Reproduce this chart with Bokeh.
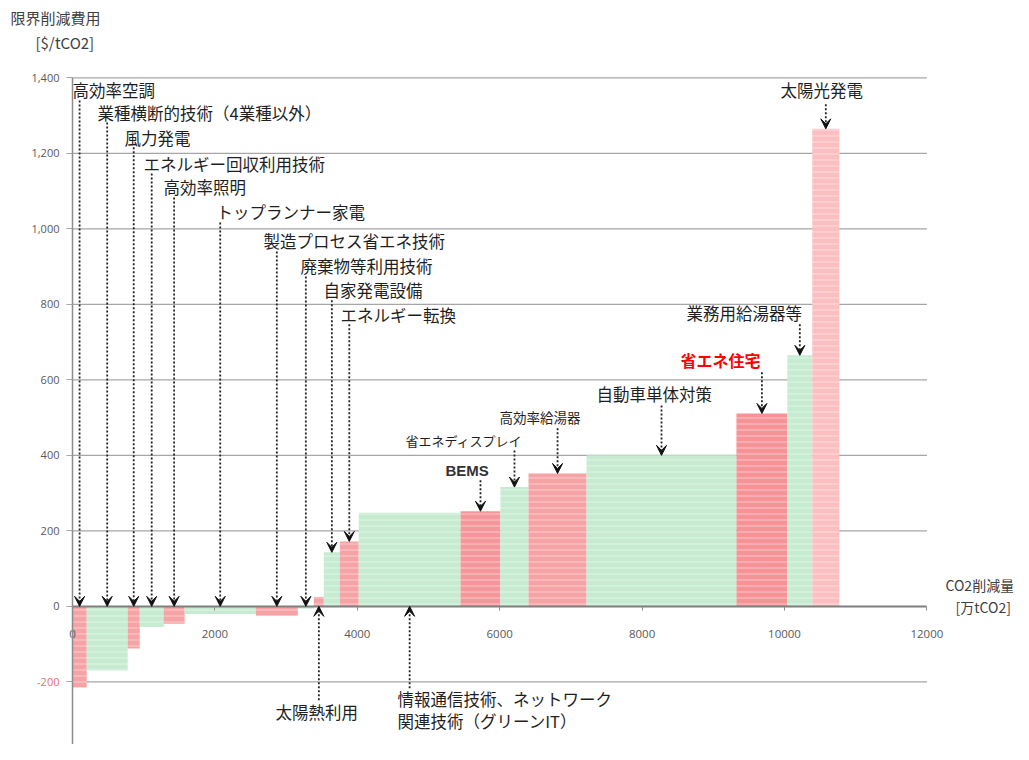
from bokeh.plotting import figure
from bokeh.models import (LinearAxis, FixedTicker, NumeralTickFormatter, Range1d,
                          Arrow, VeeHead, ColumnDataSource)
from bokeh.core.properties import value
from bokeh.embed import file_html
from bokeh.resources import INLINE
import numpy as np

# ---------------- data ----------------
measures = ["高効率空調", "業種横断的技術（4業種以外）", "風力発電", "エネルギー回収利用技術",
            "高効率照明", "トップランナー家電", "製造プロセス省エネ技術", "廃棄物等利用技術",
            "太陽熱利用", "自家発電設備", "エネルギー転換",
            "情報通信技術、ネットワーク\n関連技術（グリーンIT）", "BEMS", "省エネディスプレイ",
            "高効率給湯器", "自動車単体対策", "省エネ住宅", "業務用給湯器等", "太陽光発電"]
reduction = [200, 575, 170, 335, 295, 1000, 590, 225, 140, 225, 265, 1430, 560, 395, 815,
             2105, 715, 350, 380]          # 万tCO2
cost = [-215, -170, -112, -55, -46, -20, -25, -6, 25, 143, 172, 248, 252, 316, 352, 400,
        511, 665, 1265]                    # $/tCO2
y_ticks = [-400, -200, 0, 200, 400, 600, 800, 1000, 1200, 1400]
x_ticks = [0, 2000, 4000, 6000, 8000, 10000, 12000]

# label placement (data units) and arrow tail heights
label_x = [0, 351, 730, 997, 1278, 2022, 2683, 3202, 2851, 3525, 3764, 4565, 5239, 4677,
           5997, 7360, 8539, 8624, 9944]
label_y = [1367, 1306, 1242, 1171, 1110, 1044, 967, 901, -281, 837, 773, -274, 360, 440,
           501, 562, 652, 776, 1367]
tail_y = [1340, 1282, 1216, 1147, 1083, 1017, 940, 874, -249, 811, 747, -217, 334, 413,
          472, 532, 620, 747, 1330]

RED = "#f6a3a5"
GREEN = "#c6ebd1"
fills = [RED if i % 2 == 0 else GREEN for i in range(len(cost))]
fills[12] = "#f5979a"   # BEMS
fills[16] = "#f59397"   # 省エネ住宅
fills[18] = "#fbbfc1"   # 太陽光発電

right = np.cumsum(reduction)
left = right - np.array(reduction)
center = (left + right) / 2.0

bars = ColumnDataSource(dict(left=left, right=right, bottom=[0] * len(cost), top=cost,
                             fill=fills, name=measures))

tip_y = [0 if t < 0 else max(c, 0) for c, t in zip(cost, tail_y)]
arrows = ColumnDataSource(dict(x0=center, y0=tail_y, x1=center, y1=tip_y))

# ---------------- figure ----------------
p = figure(width=1013, height=744, output_backend="svg", toolbar_location=None,
           x_axis_type=None, y_axis_type=None, min_border=0,
           x_range=Range1d(-1011, 13216), y_range=Range1d(-366, 1605))
p.outline_line_color = None
p.background_fill_color = "white"
p.xgrid.visible = False
p.ygrid.visible = False

# gridlines (drawn from tick values, up to the end of the x axis)
grid_y = [t for t in y_ticks if t != 0]
p.segment(x0=[0] * len(grid_y), y0=grid_y, x1=[x_ticks[-1]] * len(grid_y), y1=grid_y,
          line_color="#a6a6a6", line_width=1.2)

# bars
p.quad(left="left", right="right", bottom="bottom", top="top", source=bars,
       fill_color="fill", line_color=None,
       hatch_pattern="horizontal_line", hatch_color="white", hatch_alpha=0.45,
       hatch_scale=6, hatch_weight=1)

# axes
yax = LinearAxis(fixed_location=0, ticker=FixedTicker(ticks=[t for t in y_ticks if t >= 0]),
                 formatter=NumeralTickFormatter(format="0,0"), bounds=(-400, 1400))
yax.axis_line_color = "#8c8c8c"
yax.axis_line_width = 1.5
yax.major_tick_out = 6
yax.major_tick_in = 0
yax.major_tick_line_color = "#a6a6a6"
yax.minor_tick_line_color = None
yax.major_label_standoff = 7
yax.major_label_text_font = "Open Sans"
yax.major_label_text_font_size = "11px"
yax.major_label_text_color = "#595959"
p.add_layout(yax, "left")

yax_neg = LinearAxis(fixed_location=0, ticker=FixedTicker(ticks=[t for t in y_ticks if t < 0]),
                     formatter=NumeralTickFormatter(format="0,0"))
yax_neg.axis_line_color = None
yax_neg.major_tick_out = 6
yax_neg.major_tick_in = 0
yax_neg.major_tick_line_color = "#a6a6a6"
yax_neg.minor_tick_line_color = None
yax_neg.major_label_standoff = 7
yax_neg.major_label_text_font = "Open Sans"
yax_neg.major_label_text_font_size = "11px"
yax_neg.major_label_text_color = "#e8706c"
p.add_layout(yax_neg, "left")

xax = LinearAxis(fixed_location=0, ticker=FixedTicker(ticks=x_ticks), bounds=(0, 12000))
xax.axis_line_color = "#7f7f7f"
xax.axis_line_width = 2
xax.major_tick_out = 4
xax.major_tick_in = 0
xax.major_tick_line_color = "#8c8c8c"
xax.minor_tick_line_color = None
xax.major_label_standoff = 20
xax.major_label_text_font = "Open Sans"
xax.major_label_text_font_size = "11.5px"
xax.major_label_text_color = "#595959"
p.add_layout(xax, "below")

# arrows
p.add_layout(Arrow(x_start="x0", y_start="y0", x_end="x1", y_end="y1", source=arrows,
                   line_color="#222222", line_width=1.8, line_dash="2 2",
                   end=VeeHead(size=10, fill_color="#111111", line_color="#111111",
                               line_width=1)))

# labels
normal = [i for i in range(len(measures)) if measures[i] not in ("省エネ住宅", "BEMS")]
small = {"省エネディスプレイ": "13px", "高効率給湯器": "13.5px"}
lab = ColumnDataSource(dict(x=[label_x[i] for i in normal], y=[label_y[i] for i in normal],
                            t=[measures[i] for i in normal],
                            fs=[small.get(measures[i], "16.5px") for i in normal]))
p.text(x="x", y="y", text="t", source=lab, text_font=value("Noto Sans CJK JP"),
       text_font_size="fs", text_color="#1f1f1f", text_baseline="middle", text_align="left",
       text_line_height=0.9)

i = measures.index("BEMS")
p.text(x=[label_x[i]], y=[label_y[i]], text=[measures[i]], text_font=value("Liberation Sans"),
       text_font_size="15px", text_font_style="bold", text_color="#333333",
       text_baseline="middle", text_align="left")
i = measures.index("省エネ住宅")
p.text(x=[label_x[i]], y=[label_y[i]], text=[measures[i]], text_font=value("Noto Sans CJK JP"),
       text_font_size="16px", text_font_style="bold", text_color="#ff0000",
       text_baseline="middle", text_align="left")

# axis titles
p.text(x=[-871, -520], y=[1560, 1494], text=["限界削減費用", "[$/tCO2]"],
       text_font=value("Noto Sans CJK JP"), text_font_size="15px", text_color="#404040",
       text_baseline="middle", text_align="left")
p.text(x=[12261, 12402], y=[56, -3], text=["CO2削減量", "[万tCO2]"],
       text_font=value("Noto Sans CJK JP"), text_font_size="14px", text_color="#404040",
       text_baseline="middle", text_align="left")

open("out.html", "w").write(file_html(p, INLINE))
